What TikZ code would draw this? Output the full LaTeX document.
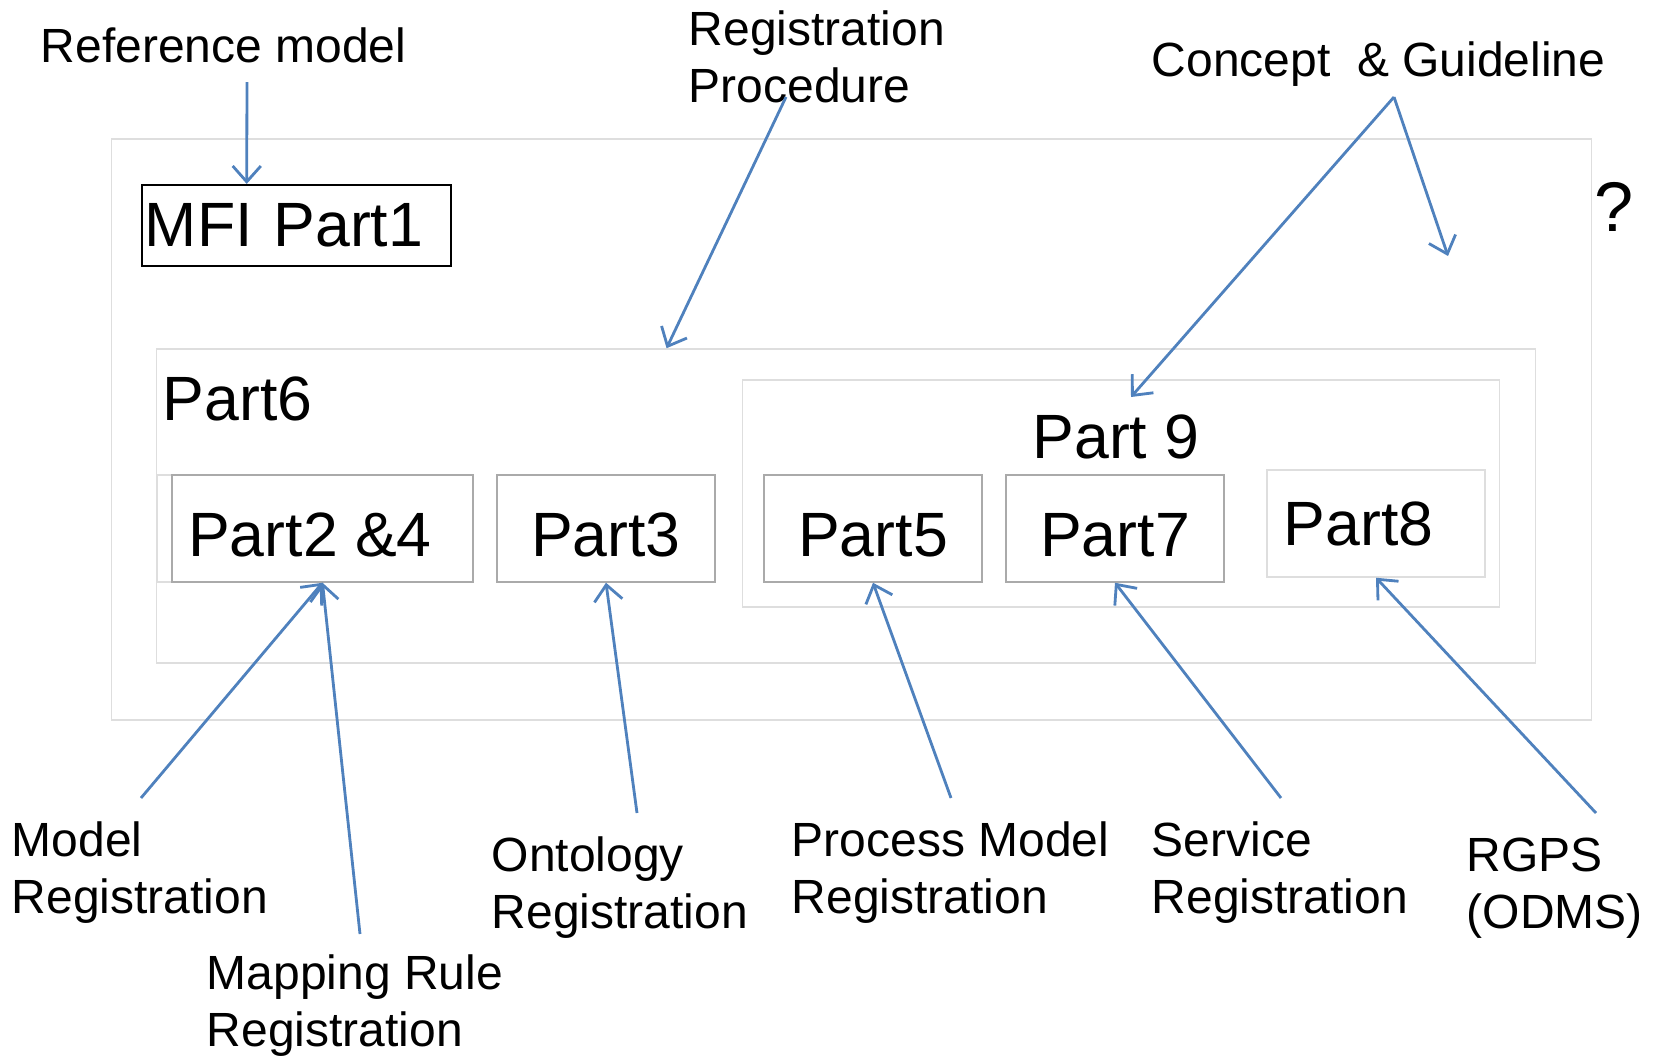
\documentclass[tikz,border=0pt]{standalone}
\usepackage{fontspec}
\setmainfont{Liberation Sans}
\usetikzlibrary{arrows.meta,calc}

\definecolor{arrowblue}{RGB}{79,129,189}
\definecolor{partgray}{RGB}{170,170,170}
\definecolor{framegray}{RGB}{222,222,222}

\tikzset{
  part/.style={draw=partgray, line width=0.4pt, font=\fontsize{17.8}{21}\selectfont,
    minimum width=2.18cm, minimum height=1.07cm, text height=0.57cm, inner sep=0pt},
  frame/.style={draw=framegray, line width=0.4pt, inner sep=0pt},
  caption/.style={font=\fontsize{13.65}{16.2}\selectfont, align=left, inner sep=0pt, anchor=base west},
  pointer/.style={draw=arrowblue, line width=0.8pt, -{Straight Barb[length=4.5pt,width=8pt]}},
}

\begin{document}
\begin{tikzpicture}[x=0.01cm, y=-0.01cm]
  \useasboundingbox (0,0) rectangle (1654,1057);

  % frames
  \node (outer) [frame, minimum width=14.79cm, minimum height=5.81cm] at (851.5,429.5) {};
  \node (part6) [frame, minimum width=13.78cm, minimum height=3.14cm] at (846,506) {};
  \node (part9) [frame, minimum width=7.56cm, minimum height=2.27cm] at (1121,493.5) {};
  \node (p6title) [anchor=west, inner sep=0pt, font=\fontsize{17.8}{21}\selectfont] at (162,399) {Part6};
  \node (p9title) [inner sep=0pt, font=\fontsize{17.8}{21}\selectfont] at (1116,437) {Part 9};

  \node (mfi) [draw=black, line width=0.6pt, font=\fontsize{17.8}{21}\selectfont, minimum height=0.81cm,
    text width=3.03cm, inner xsep=0.03cm, inner ysep=0pt, align=left] at (296.5,225.5) {MFI Part1};

  % parts
  \node (p24back) [frame, minimum width=3.16cm, minimum height=1.07cm] at (315,528.5) {};
  \node (p24) [part, minimum width=3.01cm] at (322.5,528.5) {Part2 \&4\kern0.25cm};
  \node (p3) [part] at (606,528.5) {Part3};
  \node (p5) [part] at (873,528.5) {Part5};
  \node (p7) [part] at (1115,528.5) {Part7};
  \node (p8) [part, draw=framegray, text height=0.45cm] at (1376,523.5) {Part8\kern0.35cm};

  % captions
  \node (refmodel) [caption] at (40,62) {Reference model};
  \node (regproc) [caption] at (688,102) {Registration\\Procedure};
  \node (concept) [caption] at (1151,76) {Concept\ \ \& Guideline};
  \node (question) [inner sep=0pt, font=\fontsize{20}{24}\selectfont] at (1614,207) {?};
  \node (modelreg) [caption] at (11,913) {Model\\Registration};
  \node (mapreg) [caption] at (206,1046) {Mapping Rule\\Registration};
  \node (ontoreg) [caption] at (491,928) {Ontology\\Registration};
  \node (procreg) [caption] at (791,913) {Process Model\\Registration};
  \node (servreg) [caption] at (1151,913) {Service\\Registration};
  \node (rgps) [caption] at (1466,928) {RGPS\\(ODMS)};

  \coordinate (reftail) at (247,82);
  \coordinate (regtail) at (786,97);
  \coordinate (concepttail) at (1394,97);
  \coordinate (p9tip) at (1131,397);
  \coordinate (qtip) at (1448,256);
  \coordinate (modeltail) at (141,798);
  \coordinate (maptail) at (360,934);
  \coordinate (ontotail) at (637,813);
  \coordinate (proctail) at (951,798);
  \coordinate (servtail) at (1281,798);
  \coordinate (rgpstail) at (1596,813);

  \draw[pointer] (reftail) to ($(mfi.north west)!0.34!(mfi.north east)$);
  \draw[pointer] (regtail) to ($(part6.north west)!0.37!(part6.north east)$);
  \draw[pointer] (concepttail) to (p9tip);
  \draw[pointer] (concepttail) to (qtip);
  \draw[pointer] (modeltail) to (p24.south);
  \draw[pointer] (maptail) to (p24.south);
  \draw[pointer] (ontotail) to (p3.south);
  \draw[pointer] (proctail) to (p5.south);
  \draw[pointer] (servtail) to (p7.south);
  \draw[pointer] (rgpstail) to (p8.south);
\end{tikzpicture}
\end{document}
